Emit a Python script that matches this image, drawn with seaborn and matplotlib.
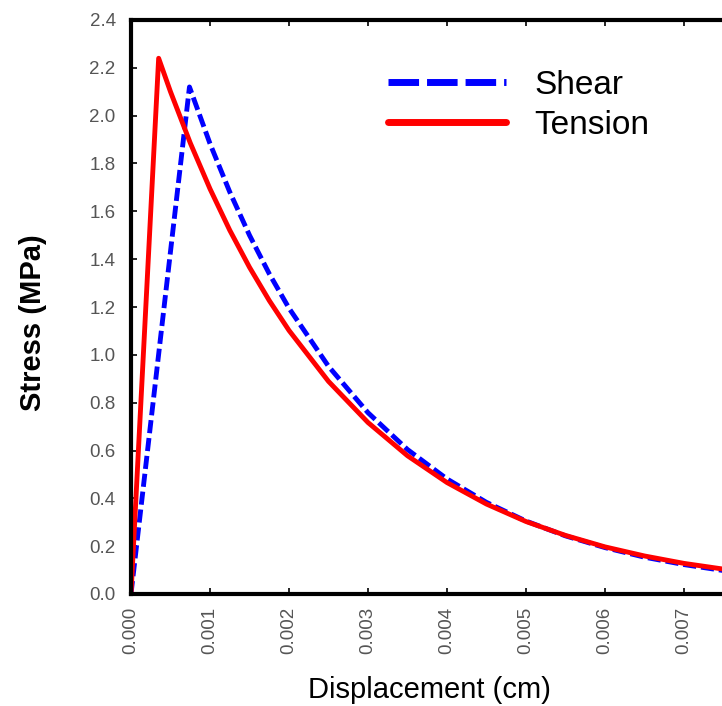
import matplotlib
matplotlib.use("Agg")
import matplotlib.pyplot as plt
from matplotlib.lines import Line2D
import pandas as pd
import seaborn as sns

# Stress-displacement curves (linear rise to peak, then softening)
shear_disp = [0.0, 0.00074, 0.001, 0.00125, 0.0015, 0.00175, 0.002, 0.0025,
              0.003, 0.0035, 0.004, 0.0045, 0.005, 0.0055, 0.006, 0.0065,
              0.007, 0.0075, 0.008]
shear_stress = [0.0, 2.12, 1.883, 1.681, 1.500, 1.339, 1.195, 0.952,
                0.758, 0.604, 0.481, 0.383, 0.305, 0.243, 0.194, 0.154,
                0.123, 0.098, 0.078]

tension_disp = [0.0, 0.00035, 0.0005, 0.00075, 0.001, 0.00125, 0.0015, 0.00175,
                0.002, 0.0025, 0.003, 0.0035, 0.004, 0.0045, 0.005, 0.0055,
                0.006, 0.0065, 0.007, 0.0075, 0.008]
tension_stress = [0.0, 2.24, 2.100, 1.886, 1.694, 1.521, 1.366, 1.227,
                  1.102, 0.889, 0.717, 0.578, 0.466, 0.376, 0.303, 0.245,
                  0.197, 0.159, 0.128, 0.104, 0.083]

modes = ["Shear", "Tension"]
x_ticks = [0.000, 0.001, 0.002, 0.003, 0.004, 0.005, 0.006, 0.007]
x_tick_labels = ["0.000", "0.001", "0.002", "0.003", "0.004", "0.005", "0.006", "0.007"]
y_ticks = [0.0, 0.2, 0.4, 0.6, 0.8, 1.0, 1.2, 1.4, 1.6, 1.8, 2.0, 2.2, 2.4]
y_tick_labels = ["0.0", "0.2", "0.4", "0.6", "0.8", "1.0", "1.2", "1.4",
                 "1.6", "1.8", "2.0", "2.2", "2.4"]

df = pd.concat([
    pd.DataFrame({"disp": shear_disp, "stress": shear_stress, "mode": "Shear"}),
    pd.DataFrame({"disp": tension_disp, "stress": tension_stress, "mode": "Tension"}),
], ignore_index=True)

sns.set_theme(style="white")
plt.rcParams["font.family"] = ["Liberation Sans", "DejaVu Sans"]

fig = plt.figure(figsize=(7.22, 7.06), dpi=100)
W, H = 722, 706
left, right_px, top, bottom = 131, 131 + 632, 20, 594
ax = fig.add_axes([left / W, (H - bottom) / H, (right_px - left) / W, (bottom - top) / H])

colors = {"Shear": "#0000ff", "Tension": "#ff0000"}
sns.lineplot(data=df, x="disp", y="stress", hue="mode", style="mode",
             hue_order=modes, style_order=modes, palette=colors,
             dashes={"Shear": (2.7, 1.0), "Tension": ""},
             linewidth=3.5, sort=False, estimator=None, legend=False, ax=ax)

ax.set_xlim(0, 0.008)
ax.set_ylim(0, 2.4)
ax.set_xticks(x_ticks)
ax.set_xticklabels(x_tick_labels, rotation=90)
ax.set_yticks(y_ticks)
ax.set_yticklabels(y_tick_labels)
ax.tick_params(axis="both", direction="in", length=4, width=1.2, color="black",
               labelsize=13.5, labelcolor="#555555", top=True, bottom=True, left=True)
ax.tick_params(axis="y", pad=11)
ax.tick_params(axis="x", pad=9)

for side in ["left", "bottom", "top", "right"]:
    ax.spines[side].set_color("black")
    ax.spines[side].set_linewidth(3)

ax.set_xlabel("Displacement (cm)", fontsize=21, color="black")
ax.xaxis.set_label_coords(0.4715, -0.143)
ax.set_ylabel("Stress (MPa)", fontsize=21, fontweight="bold", color="black")
ax.yaxis.set_label_coords(-0.133, 0.472)

handles = [
    Line2D([], [], color=colors["Shear"], linewidth=5, dashes=(4.4, 1.15)),
    Line2D([], [], color=colors["Tension"], linewidth=5),
]
ax.legend(handles, modes, loc="upper left", bbox_to_anchor=(0.4066, 0.9135),
          frameon=False, fontsize=24, handlelength=3.55, handletextpad=0.83,
          borderpad=0, borderaxespad=0, labelspacing=0.28, labelcolor="black")

fig.savefig("out.png", dpi=100, facecolor="white")
